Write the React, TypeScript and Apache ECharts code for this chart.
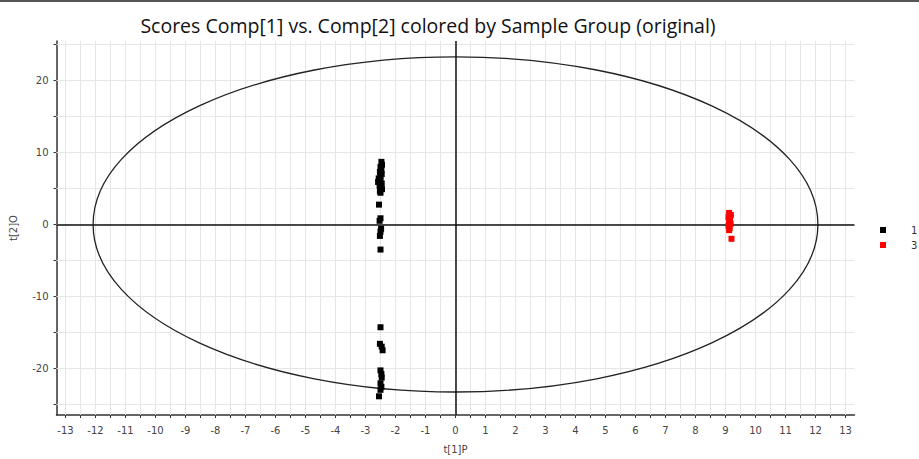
import React, { useEffect, useRef } from "react";
import * as echarts from "echarts";

// Group "1" scores (t[1]P, t[2]O)
const group1: number[][] = [
  [-2.47, 8.7], [-2.45, 8.3], [-2.5, 8.0], [-2.47, 7.6], [-2.52, 7.3], [-2.46, 7.0],
  [-2.5, 6.7], [-2.56, 6.4], [-2.5, 6.1], [-2.58, 5.9], [-2.46, 5.7], [-2.53, 5.4],
  [-2.5, 5.1], [-2.45, 4.9], [-2.52, 4.6], [-2.5, 4.4],
  [-2.55, 2.75], [-2.5, 0.85], [-2.53, 0.5], [-2.48, -0.6], [-2.5, -1.0], [-2.52, -1.6],
  [-2.5, -3.5],
  [-2.5, -14.3], [-2.52, -16.6], [-2.46, -17.0], [-2.43, -17.5],
  [-2.5, -20.3], [-2.47, -20.8], [-2.46, -21.3], [-2.5, -22.1], [-2.47, -22.6], [-2.5, -23.0],
  [-2.55, -23.9],
];

// Group "3" scores
const group3: number[][] = [
  [9.12, 1.6], [9.18, 1.3], [9.1, 1.0], [9.15, 0.7], [9.12, 0.4], [9.17, 0.1],
  [9.1, -0.2], [9.14, -0.5], [9.12, -0.8], [9.2, -2.0],
];

// Hotelling T2 ellipse: centre x, centre y, semi-axis x, semi-axis y
const ellipse: number[][] = [[0, 0, 12.08, 23.3]];

const xTickLabels: number[] = [
  -13, -12, -11, -10, -9, -8, -7, -6, -5, -4, -3, -2, -1, 0, 1, 2, 3, 4, 5, 6, 7, 8, 9, 10, 11, 12, 13,
];
const xTickValues: number[] = [];
for (let i = -26; i <= 26; i++) xTickValues.push(i / 2);

const yTickLabels: number[] = [-20, -10, 0, 10, 20];
const yTickValues: number[] = [-25, -20, -15, -10, -5, 0, 5, 10, 15, 20, 25];

const TITLE = "Scores Comp[1] vs. Comp[2] colored by Sample Group (original)";

export default function App() {
  const ref = useRef<HTMLDivElement>(null);
  useEffect(() => {
    if (!ref.current) return;
    const chart = echarts.init(ref.current, undefined, { renderer: "svg" });
    const axisFont = { fontFamily: "DejaVu Sans", fontSize: 10, color: "#444" };
    const gridLines = [
      ...xTickValues.map((v) => ({ xAxis: v })),
      ...yTickValues.map((v) => ({ yAxis: v })),
    ];
    chart.setOption({
      animation: false,
      backgroundColor: "#ffffff",
      title: {
        text: TITLE,
        left: 423,
        textAlign: "center",
        top: 10,
        textStyle: { fontFamily: "Open Sans", fontSize: 19.5, fontWeight: "normal", color: "#111" },
      },
      graphic: [
        { type: "rect", left: 0, top: 0, shape: { width: 919, height: 2 }, style: { fill: "#555" } },
      ],
      legend: {
        data: ["1", "3"],
        orient: "vertical",
        left: 880,
        top: 225,
        itemWidth: 6,
        itemHeight: 6,
        itemGap: 5,
        padding: 0,
        icon: "rect",
        textStyle: { fontFamily: "DejaVu Sans", fontSize: 10, color: "#333", padding: [0, 0, 0, 20] },
      },
      grid: { left: 56.5, right: 64.5, top: 41, bottom: 38.5, containLabel: false },
      xAxis: {
        type: "value",
        min: -13.3,
        max: 13.3,
        name: "t[1]P",
        nameLocation: "middle",
        nameGap: 29,
        nameTextStyle: { ...axisFont },
        axisLine: { show: true, onZero: false, lineStyle: { color: "#333", width: 1.5 } },
        axisTick: { show: true, customValues: xTickValues, length: 3, lineStyle: { color: "#333" } },
        axisLabel: { customValues: xTickLabels, margin: 10, ...axisFont },
        splitLine: { show: false },
      },
      yAxis: {
        type: "value",
        min: -26.5,
        max: 25.5,
        name: "t[2]O",
        nameLocation: "middle",
        nameGap: 38,
        nameRotate: 90,
        nameTextStyle: { ...axisFont },
        axisLine: { show: true, onZero: false, lineStyle: { color: "#333", width: 1.5 } },
        axisTick: { show: true, customValues: yTickValues, length: 3, lineStyle: { color: "#333" } },
        axisLabel: { customValues: yTickLabels, margin: 8, ...axisFont },
        splitLine: { show: false },
      },
      series: [
        {
          type: "scatter",
          name: "grid",
          data: [],
          silent: true,
          z: 1,
          markLine: {
            silent: true,
            z: 1,
            symbol: "none",
            label: { show: false },
            emphasis: { disabled: true },
            lineStyle: { color: "#e6e6e6", width: 1, type: "solid", opacity: 1 },
            data: gridLines,
          },
        },
        {
          type: "custom",
          name: "ellipse",
          silent: true,
          data: ellipse,
          encode: { x: 0, y: 1 },
          z: 3,
          renderItem: (_params: any, api: any) => {
            const c = api.coord([api.value(0), api.value(1)]);
            const e = api.coord([api.value(0) + api.value(2), api.value(1) + api.value(3)]);
            return {
              type: "ellipse",
              shape: { cx: c[0], cy: c[1], rx: Math.abs(e[0] - c[0]), ry: Math.abs(e[1] - c[1]) },
              style: { fill: "none", stroke: "#222", lineWidth: 1.3 },
            };
          },
        },
        {
          type: "scatter",
          name: "1",
          data: group1,
          symbol: "rect",
          symbolSize: 6,
          itemStyle: { color: "#000000", opacity: 1 },
          z: 5,
          markLine: {
            silent: true,
            z: 4,
            symbol: "none",
            label: { show: false },
            lineStyle: { color: "#111", width: 1.5, type: "solid", opacity: 1 },
            data: [{ xAxis: 0 }, { yAxis: 0 }],
          },
        },
        {
          type: "scatter",
          name: "3",
          data: group3,
          symbol: "rect",
          symbolSize: 6,
          itemStyle: { color: "#ff0000", opacity: 1 },
          z: 6,
        },
      ],
    });
    return () => chart.dispose();
  }, []);
  return (
    <div
      ref={ref}
      style={{ position: "absolute", left: 0, top: 0, width: 919, height: 459 }}
    />
  );
}
